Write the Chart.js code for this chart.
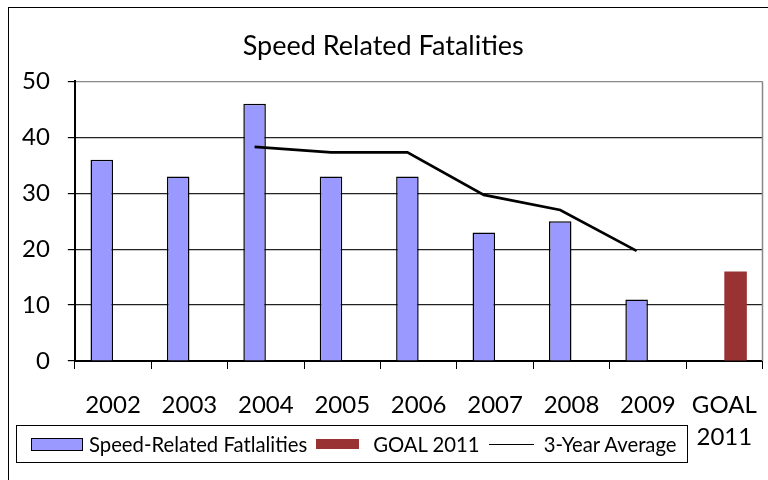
<!DOCTYPE html>
<html>
<head>
<meta charset="utf-8">
<script src="https://cdn.jsdelivr.net/npm/chart.js@4/dist/chart.umd.min.js"></script>
<style>
  body { margin: 0; background: #fff; font-family: Lato, sans-serif; }
  #wrap { position: relative; width: 768px; height: 480px; overflow: hidden; }
  #frame { position: absolute; left: 8px; top: 7px; width: 780px; height: 490px; border: 1.5px solid #000; }
  #legend { position: absolute; left: 16px; top: 425px; width: 672px; height: 38px; border: 1.5px solid #000;
            display: flex; align-items: center; padding-left: 14px; box-sizing: border-box; font-size: 20.3px; color: #000; }
  #legend .item { display: flex; align-items: center; margin-right: 9px; white-space: nowrap; }
  #legend .sw { display: inline-block; box-sizing: border-box; }
</style>
</head>
<body>
<div id="wrap">
  <canvas id="chart" width="768" height="480"></canvas>
  <div id="frame"></div>
  <div id="legend"></div>
</div>
<script>
'use strict';

// 데이터
const years = ['2002', '2003', '2004', '2005', '2006', '2007', '2008', '2009', ['GOAL', '2011']];
const speedFatalities = [36, 33, 46, 33, 33, 23, 25, 11, null];
const goal2011 = [null, null, null, null, null, null, null, null, 16];
const threeYearAvg = [null, null, 38.3, 37.3, 37.3, 29.7, 27, 19.7, null];
const yTicks = [0, 10, 20, 30, 40, 50];

const catPct = 0.59;
// 선은 막대 묶음의 왼쪽 막대 가운데에 놓인다
const barShift = catPct / 4;

const xIdx = years.map((_, i) => i);
const lineData = threeYearAvg.map((v, i) => ({ x: i - barShift, y: v }));

const FONT = 'Lato';

// 그림 영역 오른쪽 회색 테두리
const plotBorder = {
    id: 'plotBorder',
    afterDatasetsDraw(chart) {
        const { ctx, chartArea: a } = chart;
        ctx.save();
        ctx.strokeStyle = '#888';
        ctx.lineWidth = 1.5;
        ctx.beginPath();
        ctx.moveTo(a.right, a.top);
        ctx.lineTo(a.right, a.bottom);
        ctx.stroke();
        ctx.restore();
    }
};

const chart = new Chart(document.getElementById('chart').getContext('2d'), {
    type: 'bar',
    data: {
        labels: xIdx,
        datasets: [
            { label: 'Speed-Related Fatlalities', data: speedFatalities, backgroundColor: '#9999FF',
              borderColor: '#000', borderWidth: 1.5, categoryPercentage: catPct, barPercentage: 1.0, order: 1 },
            { label: 'GOAL 2011', data: goal2011, backgroundColor: '#993333',
              borderWidth: 0, categoryPercentage: catPct, barPercentage: 1.0, order: 1 },
            { type: 'line', label: '3-Year Average', data: lineData,
              borderColor: '#000', borderWidth: 2.7, pointRadius: 0, tension: 0, order: 0 }
        ]
    },
    options: {
        responsive: false,
        animation: false,
        layout: { padding: { left: 4, right: 5.5, top: 0, bottom: 7 } },
        plugins: {
            legend: { display: false },
            tooltip: { enabled: false },
            title: {
                display: true,
                text: 'Speed Related Fatalities',
                color: '#000',
                font: { family: FONT, size: 27, weight: 'normal', lineHeight: 1.2 },
                padding: { top: 30, bottom: 19 }
            }
        },
        scales: {
            x: {
                type: 'linear',
                offset: false,
                min: -0.5,
                max: years.length - 0.5,
                afterBuildTicks: (axis) => { axis.ticks = xIdx.map(v => ({ value: v })); },
                // 마지막 라벨은 칸 안에 들어가므로 오른쪽 여백이 필요 없다
                afterFit: (axis) => { axis.paddingRight = 0; },
                grid: { display: true, drawOnChartArea: false, drawTicks: true, tickLength: 8, color: '#000', offset: true },
                border: { color: '#000', width: 2 },
                ticks: { color: '#000', font: { family: FONT, size: 24, lineHeight: 1.333 }, padding: 20,
                         maxRotation: 0, autoSkip: false, callback: (v) => years[v] }
            },
            y: {
                min: yTicks[0],
                max: yTicks[yTicks.length - 1],
                afterBuildTicks: (axis) => { axis.ticks = yTicks.map(v => ({ value: v })); },
                grid: {
                    color: (ctx) => (ctx.tick && ctx.tick.value === 50 ? '#888' : '#222'),
                    tickColor: '#000',
                    tickLength: 7,
                    lineWidth: 1.2
                },
                border: { color: '#000', width: 2 },
                ticks: { color: '#000', font: { family: FONT, size: 24 }, padding: 18 }
            }
        }
    },
    plugins: [plotBorder]
});

// HTML 범례
const swatchGap = [6, 14, 10];

function buildLegend() {
    const box = document.getElementById('legend');
    box.innerHTML = '';
    chart.data.datasets.forEach((ds, i) => {
        const item = document.createElement('span');
        item.className = 'item';
        const sw = document.createElement('span');
        sw.className = 'sw';
        sw.style.marginRight = swatchGap[i] + 'px';
        if (ds.type === 'line') {
            sw.style.width = '45px';
            sw.style.height = '0px';
            sw.style.borderTop = '1.5px solid ' + ds.borderColor;
        } else {
            sw.style.width = ds.borderWidth ? '52px' : '43px';
            sw.style.height = ds.borderWidth ? '13px' : '10px';
            sw.style.background = ds.backgroundColor;
            if (ds.borderWidth) sw.style.border = ds.borderWidth + 'px solid ' + ds.borderColor;
        }
        const txt = document.createElement('span');
        txt.textContent = ds.label;
        item.appendChild(sw);
        item.appendChild(txt);
        box.appendChild(item);
    });
}
buildLegend();
</script>
</body>
</html>
